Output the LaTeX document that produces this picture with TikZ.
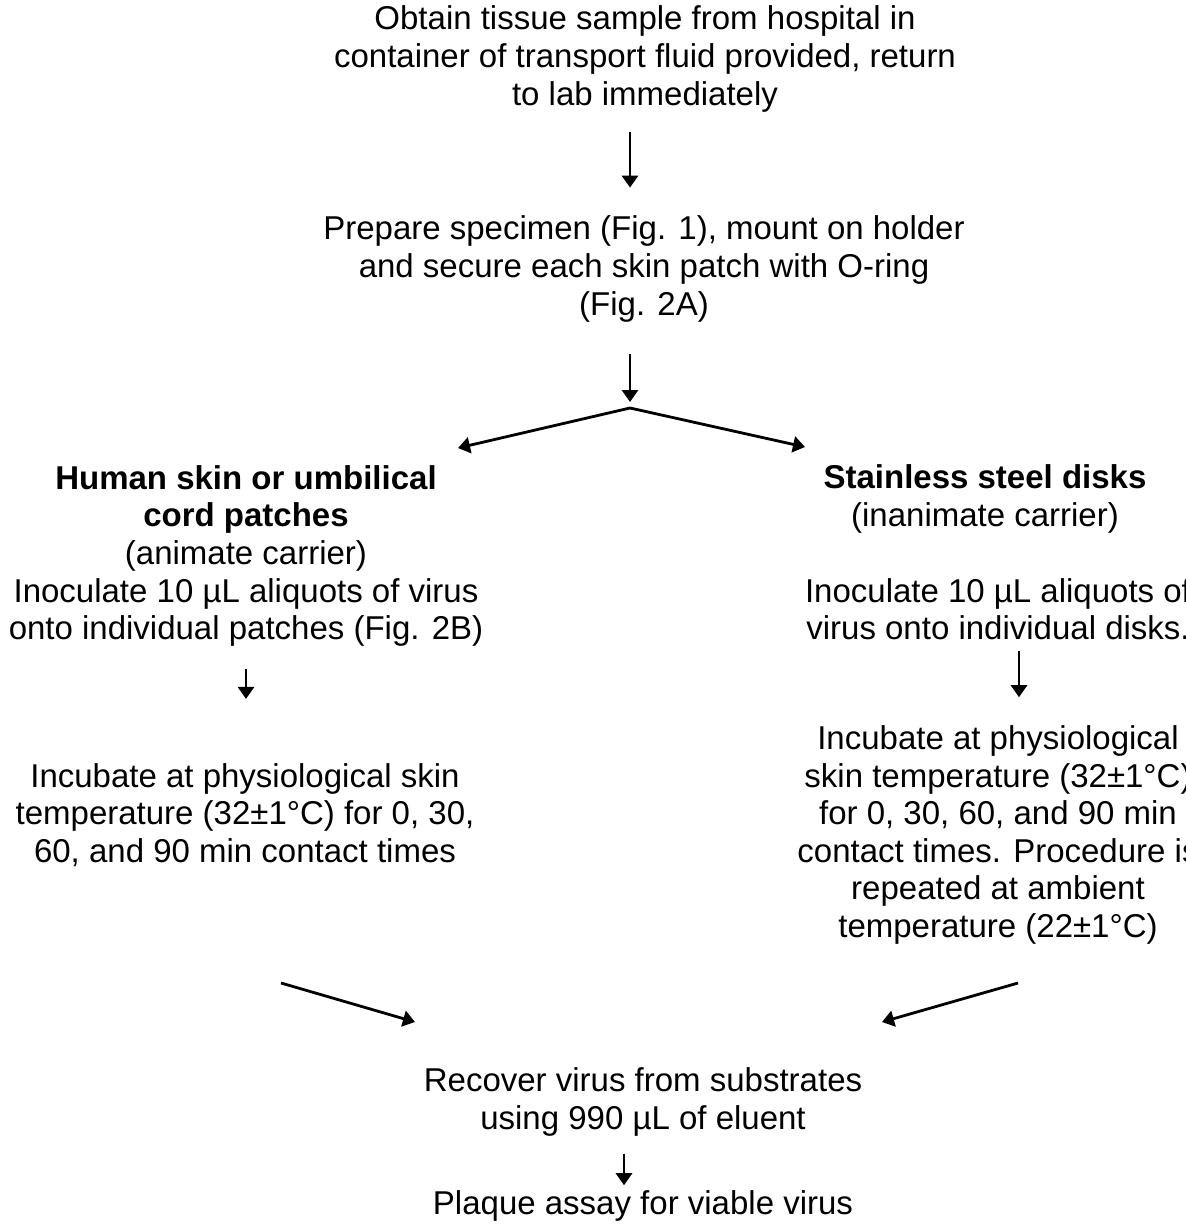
\documentclass[tikz,border=0pt]{standalone}
\usepackage{fontspec}
\setmainfont{Liberation Sans}
\usetikzlibrary{arrows.meta}

\begin{document}
\begin{tikzpicture}[
      x=0.5pt, y=-0.5pt,
      stage/.style ={align=center, inner sep=0pt, font=\fontsize{16.5}{18.8}\selectfont},
      flow arrow/.style ={line width=1.4pt, -{Triangle[width=8pt,length=6pt]}}]
    \useasboundingbox (0,0) rectangle (1186,1230);
    \node[stage] (obtain) at (645,59) {Obtain tissue sample from hospital in\\container of transport fluid provided, return\\to lab immediately};
    \node[stage] (prepare) at (644,269) {Prepare specimen (Fig. 1), mount on holder\\and secure each skin patch with O-ring\\(Fig. 2A)};
    \node[stage] (human) at (246,556) {\textbf{Human skin or umbilical}\\\textbf{cord patches}\\(animate carrier)\\Inoculate 10 µL aliquots of virus\\onto individual patches (Fig. 2B)};
    \node[stage] (steel) at (985,499) {\textbf{Stainless steel disks}\\(inanimate carrier)};
    \node[stage] (inocR) at (998,609) {Inoculate 10 µL aliquots of\\virus onto individual disks.};
    \node[stage] (incL) at (245,815) {Incubate at physiological skin\\temperature (32±1°C) for 0, 30,\\60, and 90 min contact times};
    \node[stage] (incR) at (998,835) {Incubate at physiological\\skin temperature (32±1°C)\\for 0, 30, 60, and 90 min\\contact times. Procedure is\\repeated at ambient\\temperature (22±1°C)};
    \node[stage] (recover) at (643,1102) {Recover virus from substrates\\using 990 µL of eluent};
    \node[stage] (plaque) at (643,1206) {Plaque assay for viable virus};
    % split and merge points
    \coordinate (split) at (630,408);
    \coordinate (human in) at (458,448);
    \coordinate (steel in) at (805,447);
    \coordinate (skin out) at (281,983);
    \coordinate (disk out) at (1018,983);
    \draw[flow arrow, shorten <=10pt, shorten >=14pt] (obtain.south -| split) -- (prepare.north -| split);
    \draw[flow arrow, shorten <=16pt, shorten >=3pt] (prepare.south -| split) -- (split);
    \draw[flow arrow] (split) -- (human in);
    \draw[flow arrow] (split) -- (steel in);
    \draw[flow arrow, shorten <=11pt, shorten >=32pt] (human.south) -- (human.south |- incL.north);
    \draw[flow arrow, shorten <=5.5pt, shorten >=14pt] ([xshift=10.5pt]inocR.south) -- ([xshift=10.5pt]inocR.south |- incR.north);
    \draw[flow arrow] (skin out) -- (415,1022);
    \draw[flow arrow] (disk out) -- (882,1022);
    \draw[flow arrow, shorten <=8.5pt, shorten >=2.5pt] ([xshift=-9.5pt]recover.south) -- ([xshift=-9.5pt]recover.south |- plaque.north);
\end{tikzpicture}
\end{document}
